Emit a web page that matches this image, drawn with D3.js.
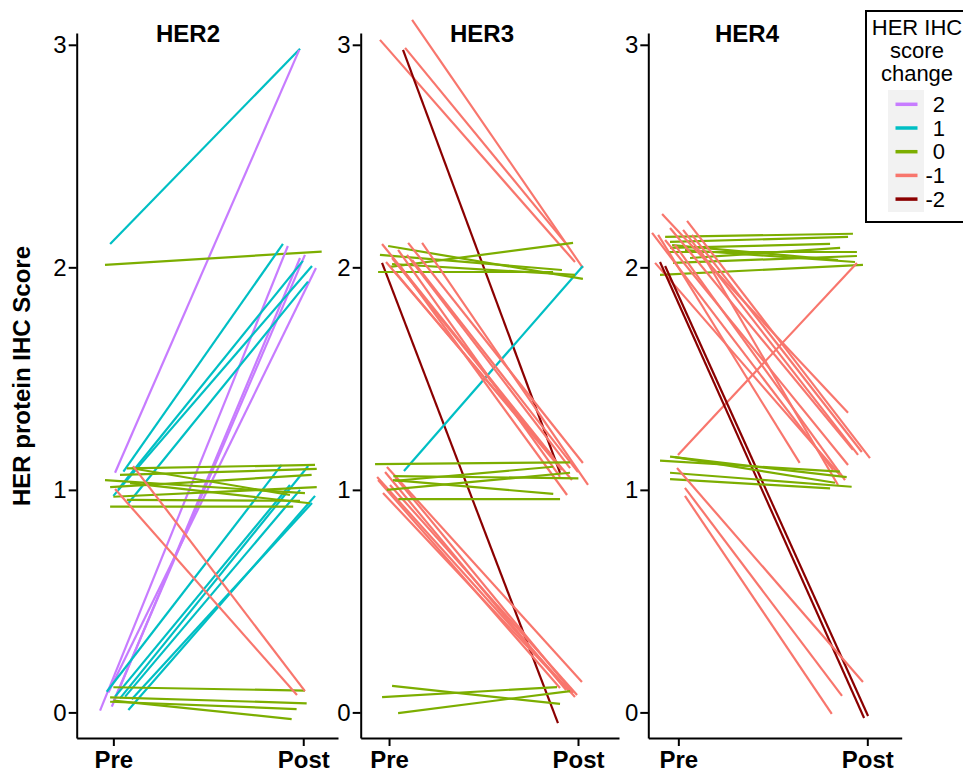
<!DOCTYPE html>
<html>
<head>
<meta charset="utf-8">
<script src="https://cdn.jsdelivr.net/npm/d3@7"></script>
<style>
  body { margin: 0; background: #fff; }
  svg { display: block; font-family: "Liberation Sans", Arial, Helvetica, sans-serif; }
  .axis path, .axis line { stroke: #000; stroke-width: 2px; }
  .axis text { fill: #000; }
</style>
</head>
<body>
<svg width="963" height="773"></svg>
<script>
// score change categories and their colours
var changeLevels = [2, 1, 0, -1, -2];
var changeColors = ["#C77CFF", "#00BFC4", "#7CAE00", "#F8766D", "#8B0000"];
var markers = ["HER2", "HER3", "HER4"];
var timepoints = ["Pre", "Post"];
var yTicks = [0, 1, 2, 3];

// jittered paired scores: [pre x, pre score, post x, post score, change] (x: Pre = 1, Post = 2)
var her2Lines = [
  [0.983, 2.105, 1.983, 2.982, 1],
  [1.009, 1.077, 1.979, 2.977, 2],
  [0.956, 2.011, 2.097, 2.071, 0],
  [0.930, 0.008, 1.919, 2.096, 2],
  [0.992, 0.026, 1.983, 2.042, 2],
  [1.000, 0.048, 2.009, 2.056, 2],
  [0.974, 0.089, 2.067, 1.997, 2],
  [1.053, 1.082, 1.893, 2.105, 1],
  [1.026, 1.003, 1.998, 2.029, 1],
  [1.000, 0.973, 2.046, 2.006, 1],
  [1.079, 0.940, 2.025, 1.936, 1],
  [0.965, 0.093, 1.886, 1.112, 1],
  [1.009, 0.071, 1.930, 1.022, 1],
  [1.035, 0.063, 2.026, 1.107, 1],
  [1.062, 0.071, 1.983, 1.000, 1],
  [1.079, 0.011, 2.062, 0.973, 1],
  [1.097, 0.059, 2.046, 0.941, 1],
  [1.071, 1.097, 2.062, 1.112, 0],
  [1.035, 1.067, 2.071, 1.094, 0],
  [0.956, 1.044, 2.009, 0.985, 0],
  [0.983, 1.012, 2.044, 1.067, 0],
  [1.088, 1.030, 2.035, 0.940, 0],
  [0.983, 0.925, 1.947, 0.925, 0],
  [1.071, 0.955, 1.983, 0.951, 0],
  [1.000, 0.969, 2.071, 1.012, 0],
  [1.097, 1.097, 1.930, 0.977, 0],
  [1.000, 0.113, 2.009, 0.098, 0],
  [0.983, 0.068, 2.018, 0.041, 0],
  [0.983, 0.048, 1.965, 0.015, 0],
  [1.000, 0.053, 1.939, -0.030, 0],
  [1.009, 1.004, 1.967, 0.078, -1],
  [1.104, 1.107, 2.009, 0.096, -1]
];

var her3Lines = [
  [0.952, 3.022, 1.984, 2.024, -1],
  [1.085, 2.986, 1.942, 2.101, -1],
  [1.122, 3.112, 2.026, 1.997, -1],
  [1.074, 2.977, 1.905, 1.076, -2],
  [0.963, 2.020, 1.894, -0.048, -2],
  [1.079, 1.085, 2.026, 2.006, 1],
  [0.995, 2.096, 2.026, 1.948, 0],
  [0.952, 2.056, 1.915, 1.988, 0],
  [0.942, 1.979, 1.868, 1.979, 0],
  [1.005, 2.002, 1.974, 2.110, 0],
  [1.016, 2.015, 1.984, 1.966, 0],
  [0.963, 2.105, 1.868, 1.148, -1],
  [1.101, 2.110, 2.026, 1.121, -1],
  [1.175, 2.110, 2.053, 1.022, -1],
  [1.095, 2.056, 1.958, 1.098, -1],
  [1.016, 2.042, 1.889, 1.121, -1],
  [1.048, 2.078, 1.905, 1.058, -1],
  [0.984, 2.024, 1.968, 1.044, -1],
  [1.058, 2.006, 1.942, 0.977, -1],
  [1.122, 2.033, 2.000, 1.080, -1],
  [1.032, 1.979, 1.915, 1.089, -1],
  [0.937, 1.058, 1.984, 0.069, -1],
  [0.968, 0.986, 1.958, 0.092, -1],
  [0.989, 1.103, 2.021, 0.137, -1],
  [1.032, 1.058, 1.974, 0.087, -1],
  [0.942, 1.044, 1.905, 0.110, -1],
  [1.005, 1.022, 1.995, 0.078, -1],
  [0.979, 1.080, 1.937, 0.101, -1],
  [0.926, 1.116, 1.958, 1.124, 0],
  [1.023, 1.062, 2.002, 1.052, 0],
  [1.032, 1.041, 1.869, 1.104, 0],
  [0.988, 1.000, 1.958, 1.077, 0],
  [1.049, 0.958, 1.905, 0.958, 0],
  [1.021, 1.044, 1.869, 0.982, 0],
  [1.016, 0.119, 1.905, 0.038, 0],
  [0.963, 0.069, 1.889, 0.114, 0],
  [1.048, -0.003, 1.958, 0.096, 0]
];

var her4Lines = [
  [0.930, 2.137, 1.924, 2.151, 0],
  [0.956, 2.114, 1.898, 2.137, 0],
  [0.956, 2.087, 1.803, 2.105, 0],
  [0.946, 2.069, 1.945, 2.069, 0],
  [1.062, 2.042, 1.856, 2.087, 0],
  [0.972, 2.020, 1.945, 2.051, 0],
  [0.903, 1.966, 1.977, 2.011, 0],
  [0.967, 2.100, 1.845, 2.033, 0],
  [1.035, 2.078, 1.935, 2.024, 0],
  [0.914, 2.240, 1.898, 1.346, -1],
  [1.046, 2.209, 2.014, 1.143, -1],
  [0.861, 2.155, 1.819, 1.089, -1],
  [0.893, 2.146, 1.642, 1.121, -1],
  [0.877, 2.020, 1.855, 1.067, -1],
  [1.025, 2.168, 1.951, 1.157, -1],
  [0.956, 2.177, 1.924, 1.180, -1],
  [0.930, 2.123, 1.898, 1.112, -1],
  [0.982, 2.101, 1.882, 1.044, -1],
  [1.072, 2.146, 1.971, 1.170, -1],
  [1.115, 2.078, 1.845, 1.022, -1],
  [0.998, 1.157, 1.945, 2.020, -1],
  [0.903, 2.024, 1.983, -0.025, -2],
  [0.930, 2.006, 2.004, -0.016, -2],
  [0.903, 1.131, 1.855, 1.082, 0],
  [0.956, 1.149, 1.891, 1.057, 0],
  [0.956, 1.077, 1.917, 1.014, 0],
  [0.956, 1.048, 1.803, 1.007, 0],
  [0.982, 1.147, 1.829, 1.032, 0],
  [0.993, 1.098, 1.977, 0.137, -1],
  [1.035, 1.009, 1.866, 0.074, -1],
  [1.035, 0.973, 1.812, -0.007, -1]
];

var panelLines = [her2Lines, her3Lines, her4Lines];

// panel layout
var panels = [
  { left: 76.7, right: 338, lo: 0.807, hi: 2.183, titleX: 188 },
  { left: 360.7, right: 619, lo: 0.850, hi: 2.217, titleX: 482 },
  { left: 648.3, right: 901.7, lo: 0.841, hi: 2.182, titleX: 747 }
];

var svg = d3.select("svg");

var y = d3.scaleLinear().domain([-0.115, 3.053]).range([738, 33]);

var color = d3.scaleOrdinal().domain(changeLevels).range(changeColors);

panels.forEach(function(p, i) {
  var x = d3.scaleLinear().domain([p.lo, p.hi]).range([p.left, p.right]);
  var g = svg.append("g");

  g.append("g")
    .attr("class", "axis")
    .attr("transform", "translate(" + p.left + ",0)")
    .call(d3.axisLeft(y).tickValues(yTicks).tickFormat(d3.format("d"))
      .tickSize(8).tickSizeOuter(0).tickPadding(2))
    .call(function(a) {
      a.selectAll("text").style("font-size", "24px");
    });

  g.append("g")
    .attr("class", "axis")
    .attr("transform", "translate(0,738)")
    .call(d3.axisBottom(x).tickValues([1, 2]).tickSize(8).tickSizeOuter(0).tickPadding(5)
      .tickFormat(function(d) { return timepoints[d - 1]; }))
    .call(function(a) {
      a.selectAll("text").style("font-size", "24px").style("font-weight", "bold");
    });

  g.selectAll(".pair")
    .data(panelLines[i])
    .enter()
    .append("line")
    .attr("class", "pair")
    .attr("x1", function(d) { return x(d[0]); })
    .attr("y1", function(d) { return y(d[1]); })
    .attr("x2", function(d) { return x(d[2]); })
    .attr("y2", function(d) { return y(d[3]); })
    .style("stroke", function(d) { return color(d[4]); })
    .style("stroke-width", "2.2px");

  g.append("text")
    .attr("x", p.titleX)
    .attr("y", 42)
    .attr("text-anchor", "middle")
    .style("font-size", "24px")
    .style("font-weight", "bold")
    .text(markers[i]);
});

svg.append("text")
  .attr("transform", "translate(30,376) rotate(-90)")
  .attr("text-anchor", "middle")
  .style("font-size", "24px")
  .style("font-weight", "bold")
  .text("HER protein IHC Score");

// legend
var legend = svg.append("g");
legend.append("rect")
  .attr("x", 866).attr("y", 11)
  .attr("width", 110).attr("height", 211)
  .style("fill", "#fff").style("stroke", "#000").style("stroke-width", "2px");

["HER IHC", "score", "change"].forEach(function(t, i) {
  legend.append("text")
    .attr("x", 917).attr("y", 35 + i * 23)
    .attr("text-anchor", "middle")
    .style("font-size", "22px")
    .text(t);
});

legend.append("rect")
  .attr("x", 888).attr("y", 90)
  .attr("width", 36).attr("height", 122)
  .style("fill", "#F2F2F2");

var key = legend.selectAll(".key")
  .data(changeLevels)
  .enter()
  .append("g")
  .attr("class", "key")
  .attr("transform", function(d, i) { return "translate(0," + (104.3 + i * 23.7) + ")"; });

key.append("line")
  .attr("x1", 895.5).attr("x2", 917.5)
  .style("stroke", function(d) { return color(d); })
  .style("stroke-width", "3.5px");

key.append("text")
  .attr("x", 945).attr("y", 7.5)
  .attr("text-anchor", "end")
  .style("font-size", "22px")
  .text(function(d) { return d; });
</script>
</body>
</html>
